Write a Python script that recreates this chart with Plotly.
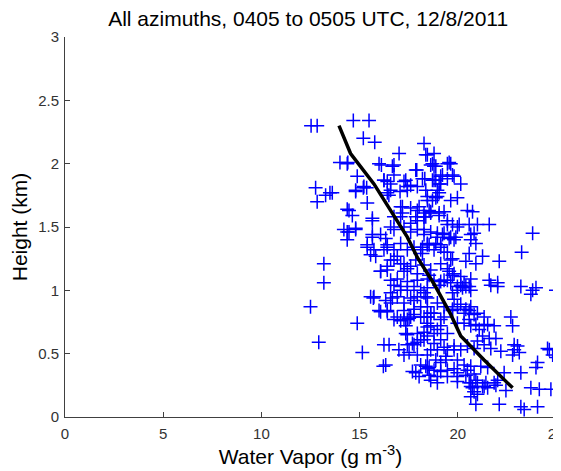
import plotly.graph_objects as go

# ---- Mean profile (black line) ----
mean_wv = [13.95, 14.54, 15.73, 16.58, 17.43, 17.94, 18.79, 19.64, 20.15, 21.34, 22.79]
mean_height = [2.30, 2.08, 1.84, 1.63, 1.42, 1.26, 1.05, 0.81, 0.64, 0.45, 0.23]

# ---- Observations (water vapor g m^-3, height km), grouped by height band ----
obs_above_1p5 = [
    (12.53, 2.30), (12.84, 2.30), (14.68, 2.34), (15.48, 2.34), (15.19, 2.20), (15.77, 2.17),
    (18.28, 2.16), (17.01, 2.08), (18.37, 2.07), (14.00, 2.01), (14.40, 2.01), (15.99, 2.00),
    (16.11, 1.99), (16.75, 1.99), (17.91, 1.95), (14.88, 1.90), (16.75, 1.91), (16.24, 1.87),
    (16.41, 1.86), (17.35, 1.87), (18.20, 1.88), (12.76, 1.81), (13.27, 1.75), (13.49, 1.77),
    (13.61, 1.77), (12.84, 1.70), (14.80, 1.79), (15.19, 1.81), (15.36, 1.81), (15.39, 1.69),
    (14.37, 1.64), (14.63, 1.59), (15.65, 1.57), (16.58, 1.79), (17.06, 1.78), (17.43, 1.82),
    (17.60, 1.83), (17.94, 1.82), (17.18, 1.66), (17.60, 1.65), (18.03, 1.66), (18.45, 1.71),
    (16.49, 1.75), (18.37, 1.58), (17.86, 1.58),
    (18.79, 2.08), (18.71, 2.00), (18.88, 1.98), (19.56, 2.01), (19.64, 2.00), (18.32, 1.88),
    (18.71, 1.87), (18.88, 1.87), (19.13, 1.90), (19.13, 1.84), (19.73, 1.91), (19.81, 1.90),
    (20.15, 1.84), (18.37, 1.79), (18.45, 1.74), (18.88, 1.73), (19.05, 1.77), (19.64, 1.71),
    (19.98, 1.73), (20.49, 1.63), (20.75, 1.62), (18.54, 1.63), (19.05, 1.61), (18.28, 1.61),
    (14.37, 2.00), (16.67, 1.98), (17.86, 1.95), (18.62, 1.99), (18.79, 1.98), (19.22, 1.91),
    (16.24, 1.87), (16.58, 1.84), (17.26, 1.86), (18.79, 1.87), (19.05, 1.84), (18.96, 1.79),
    (19.47, 1.88), (14.80, 1.78), (15.22, 1.82), (16.41, 1.77), (17.43, 1.79), (18.71, 1.71),
    (18.96, 1.74), (14.46, 1.63), (15.65, 1.55), (17.09, 1.66), (17.18, 1.61), (17.94, 1.63),
    (18.28, 1.58), (18.62, 1.62), (19.30, 1.62), (19.47, 1.55), (18.62, 1.61), (19.05, 1.59),
    (19.47, 2.00), (18.45, 2.07),
]

obs_1_to_1p5 = [
    (19.73, 1.52), (20.07, 1.52), (20.58, 1.52), (21.00, 1.52), (21.60, 1.52), (23.81, 1.45),
    (19.90, 1.42), (20.66, 1.44), (20.83, 1.45), (20.92, 1.37), (23.25, 1.30), (20.58, 1.29),
    (20.41, 1.23), (20.92, 1.21), (21.26, 1.27), (22.11, 1.23), (19.73, 1.25), (19.73, 1.12),
    (20.15, 1.11), (20.66, 1.09), (21.60, 1.08), (22.03, 1.06),
    (19.47, 1.52), (19.98, 1.50), (18.28, 1.48), (18.96, 1.45), (19.22, 1.44), (19.64, 1.42),
    (19.81, 1.40), (20.66, 1.40), (18.20, 1.34), (18.54, 1.36), (18.88, 1.37), (19.13, 1.36),
    (19.30, 1.30), (19.64, 1.24), (19.56, 1.15), (19.81, 1.13), (20.32, 1.06), (19.98, 1.03),
    (20.24, 1.02), (20.58, 1.03), (19.64, 1.06), (19.30, 1.08), (19.05, 1.04), (18.79, 1.08),
    (18.54, 1.12),
    (13.18, 1.21), (13.18, 1.06), (14.37, 1.40), (16.07, 1.15), (17.26, 1.15), (17.94, 1.13),
    (14.20, 1.48), (14.37, 1.46), (14.80, 1.48), (15.65, 1.42), (16.07, 1.44), (16.33, 1.41),
    (16.75, 1.48), (17.26, 1.50), (17.60, 1.46), (17.94, 1.48), (18.28, 1.44), (18.62, 1.46),
    (18.96, 1.42), (19.30, 1.45), (19.56, 1.41), (15.39, 1.34), (15.73, 1.32), (15.82, 1.27),
    (15.56, 1.28), (16.41, 1.34), (16.75, 1.32), (17.09, 1.37), (17.43, 1.32), (17.77, 1.34),
    (18.11, 1.32), (18.45, 1.36), (18.79, 1.32), (19.13, 1.34), (19.47, 1.30), (16.41, 1.19),
    (16.75, 1.24), (17.09, 1.21), (17.43, 1.17), (17.86, 1.24), (18.28, 1.20), (18.62, 1.16),
    (19.13, 1.21), (19.47, 1.17), (16.58, 1.08), (16.92, 1.09), (17.43, 1.07), (17.94, 1.08),
    (18.45, 1.09), (19.13, 1.07), (19.47, 1.08), (16.41, 1.36), (16.58, 1.50), (16.75, 1.58),
    (17.09, 1.58), (17.60, 1.53), (17.94, 1.55), (18.28, 1.58), (15.65, 1.44), (15.39, 1.36),
    (16.24, 1.32), (18.20, 1.29), (18.45, 1.37), (16.58, 1.24), (16.92, 1.27), (17.26, 1.21),
    (17.60, 1.19), (14.46, 1.46), (14.80, 1.49),
    (20.15, 1.04), (20.41, 1.03), (21.68, 1.04), (22.03, 1.03), (23.21, 1.03), (23.81, 1.00),
    (23.98, 1.02), (23.72, 0.97), (25.00, 1.00),
    (16.75, 1.04), (17.09, 1.03), (17.77, 1.03), (18.45, 1.02), (16.07, 1.15), (16.41, 1.16),
]

obs_0p5_to_1 = [
    (19.98, 1.00), (19.73, 0.98), (20.66, 1.00), (18.28, 0.98), (18.45, 0.94), (18.96, 0.90),
    (19.30, 0.87), (19.73, 0.84), (19.98, 0.87), (20.32, 0.82), (20.58, 0.84), (20.83, 0.81),
    (18.79, 0.82), (18.45, 0.79), (12.50, 0.87), (17.43, 1.00), (18.11, 1.00), (16.58, 0.98),
    (16.92, 0.95), (17.60, 0.94), (17.94, 0.95), (18.37, 0.95), (17.26, 0.90), (18.45, 0.87),
    (18.62, 0.82), (17.77, 0.85), (15.56, 0.95), (15.73, 0.95), (16.07, 0.83), (16.41, 0.83),
    (16.58, 0.90), (16.67, 0.94), (17.09, 1.00), (17.77, 0.92), (18.11, 0.87), (16.33, 0.92),
    (14.88, 0.74), (12.92, 0.59), (16.75, 0.77), (17.09, 0.76), (17.43, 0.77), (17.35, 0.72),
    (17.60, 0.79), (17.43, 0.65), (17.94, 0.66), (18.11, 0.61), (17.77, 0.57), (18.45, 0.79),
    (18.62, 0.72), (18.45, 0.64), (18.79, 0.66), (19.13, 0.61), (19.13, 0.72), (19.30, 0.79),
    (19.47, 0.66), (16.24, 0.57), (16.50, 0.57), (17.00, 0.53), (17.52, 0.51), (18.62, 0.53),
    (18.96, 0.53), (19.47, 0.53), (17.69, 0.58), (17.94, 0.59), (17.35, 0.66), (17.52, 0.78),
    (17.77, 0.81), (18.11, 0.79), (18.45, 0.74), (18.28, 0.67), (17.43, 0.57), (18.28, 0.79),
    (18.62, 0.82), (19.13, 0.77), (18.45, 0.71), (18.96, 0.69), (18.28, 0.61), (18.79, 0.58),
    (19.30, 0.55), (19.81, 0.53), (19.81, 0.93), (20.15, 0.89), (19.73, 0.85), (20.41, 0.85),
    (20.66, 0.87), (21.00, 0.82), (21.34, 0.79), (20.58, 0.77), (19.98, 0.74), (20.32, 0.74),
    (20.66, 0.72), (20.92, 0.73), (21.09, 0.69), (21.34, 0.72), (21.52, 0.73), (21.85, 0.72),
    (21.26, 0.64), (21.60, 0.62), (21.94, 0.62), (21.00, 0.60), (20.83, 0.54), (20.49, 0.56),
    (20.15, 0.53), (19.81, 0.56), (21.34, 0.57), (21.68, 0.54), (22.19, 0.52), (22.70, 0.79),
    (22.79, 0.72), (22.87, 0.57), (23.04, 0.56), (22.87, 0.53), (24.66, 0.53), (24.57, 0.54),
    (15.99, 0.84), (16.41, 0.84), (16.92, 0.79), (17.26, 0.84), (15.70, 0.94), (15.14, 0.51),
    (17.26, 0.77),
]

obs_below_0p5 = [
    (16.21, 0.40), (17.26, 0.49), (17.94, 0.49), (17.69, 0.36), (18.03, 0.32), (17.86, 0.35),
    (18.11, 0.41), (18.54, 0.39), (18.79, 0.37), (18.96, 0.27), (18.96, 0.32), (18.45, 0.49),
    (19.39, 0.45), (19.13, 0.43), (19.47, 0.37), (18.45, 0.38), (18.54, 0.33), (18.88, 0.45),
    (19.39, 0.48), (18.37, 0.40), (19.13, 0.36), (19.47, 0.32), (18.62, 0.29), (19.81, 0.38),
    (19.98, 0.32), (20.49, 0.37), (20.83, 0.34), (20.75, 0.23), (20.92, 0.29), (21.26, 0.24),
    (21.52, 0.23), (21.94, 0.25), (22.45, 0.21), (20.66, 0.16), (22.36, 0.35), (22.03, 0.29),
    (21.85, 0.27), (21.34, 0.24), (21.00, 0.27), (20.66, 0.24), (20.83, 0.20), (20.58, 0.27),
    (21.00, 0.18), (20.92, 0.10), (19.98, 0.45), (20.32, 0.41), (20.66, 0.40), (21.17, 0.40),
    (21.52, 0.39), (19.98, 0.35), (20.41, 0.33), (19.98, 0.28), (21.43, 0.27), (22.79, 0.49),
    (23.13, 0.51), (23.21, 0.35), (23.72, 0.23), (24.15, 0.22), (24.74, 0.22), (24.83, 0.49),
    (24.06, 0.43), (23.98, 0.39), (25.00, 0.47), (22.11, 0.10), (23.21, 0.08), (23.38, 0.06),
    (24.06, 0.08), (16.33, 0.41), (20.66, 0.27),
]

x_ticks = [0, 5, 10, 15, 20, 25]
y_ticks = [0, 0.5, 1, 1.5, 2, 2.5, 3]
y_tick_labels = ["0", "0.5", "1", "1.5", "2", "2.5", "3"]

all_obs = obs_above_1p5 + obs_1_to_1p5 + obs_0p5_to_1 + obs_below_0p5
obs_wv = [p[0] for p in all_obs]
obs_h = [p[1] for p in all_obs]

fig = go.Figure()
fig.add_trace(go.Scatter(
    x=obs_wv, y=obs_h, mode="markers",
    marker=dict(symbol="cross-thin-open", size=10, opacity=1,
                color="#0000ff", line=dict(color="#0000ff", width=1.5)),
    showlegend=False, hoverinfo="x+y",
))
fig.add_trace(go.Scatter(
    x=mean_wv, y=mean_height, mode="lines",
    line=dict(color="black", width=3.5),
    showlegend=False,
))

font_family = "Liberation Sans, Arial, Helvetica, sans-serif"
# The page body adds an 8px offset; margins compensate for it.
fig.update_layout(
    width=561, height=471,
    margin=dict(l=57, r=13, t=29, b=62),
    paper_bgcolor="white", plot_bgcolor="white",
    font=dict(family=font_family, color="#000000"),
    title=dict(text="All azimuths, 0405 to 0505 UTC, 12/8/2011",
               x=0.535, xanchor="center", y=0.978, yanchor="middle",
               font=dict(size=21, family=font_family, color="#000000")),
)
fig.update_xaxes(
    range=[0, 25], tickvals=x_ticks, ticktext=[str(v) for v in x_ticks],
    showgrid=False, zeroline=False, showline=True, linecolor="#404040", linewidth=1,
    ticks="inside", ticklen=5, tickcolor="#404040", mirror=False,
    tickfont=dict(size=15, color="#333333"), ticklabelstandoff=3,
    title=dict(text="Water Vapor (g m<sup>-3</sup>)", font=dict(size=21, color="#000000"), standoff=7),
    automargin=False,
)
fig.update_yaxes(
    range=[0, 3], tickvals=y_ticks, ticktext=y_tick_labels,
    showgrid=False, zeroline=False, showline=True, linecolor="#404040", linewidth=1,
    ticks="inside", ticklen=5, tickcolor="#404040", mirror=False,
    tickfont=dict(size=15, color="#333333"), ticklabelstandoff=2,
    title=dict(text="Height (km)", font=dict(size=21, color="#000000"), standoff=4),
    automargin=False,
)

fig.write_html("out.html")
